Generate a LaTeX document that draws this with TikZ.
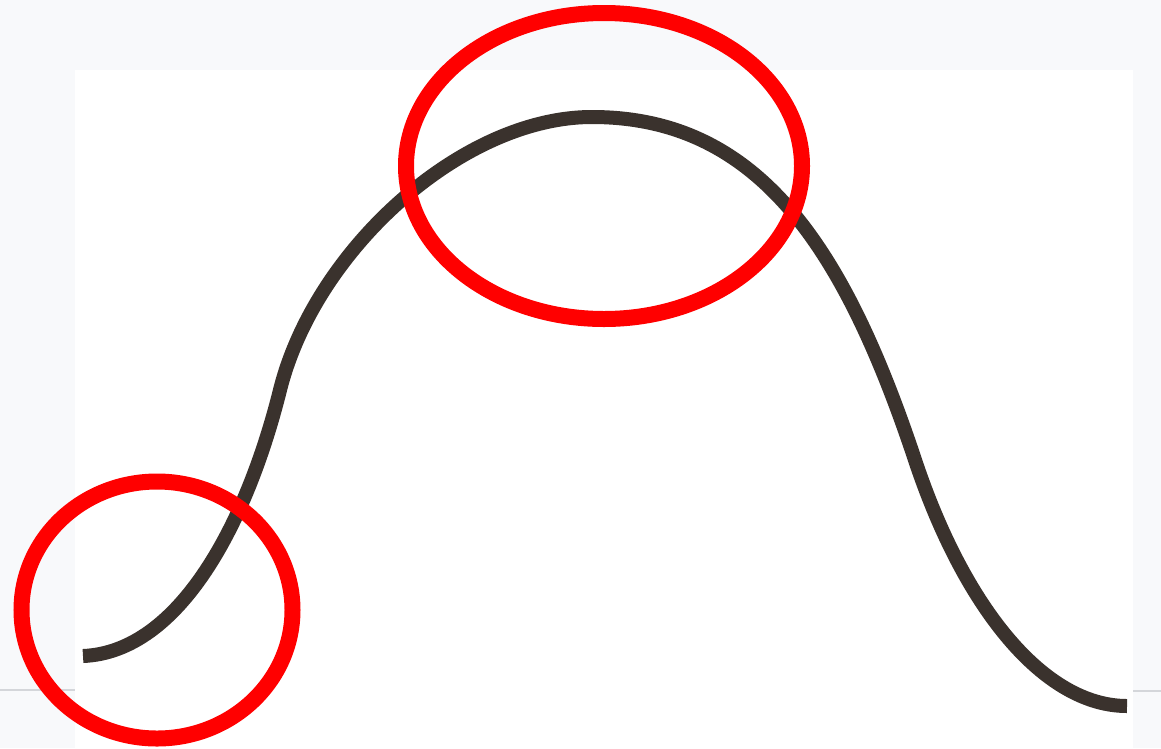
\documentclass[tikz,border=0pt]{standalone}
\definecolor{bgcol}{HTML}{F8F9FB}
\definecolor{curvecol}{HTML}{3A322D}
\definecolor{markred}{HTML}{FF0000}
\definecolor{edgegray}{HTML}{D4D6DA}
\tikzset{
  curveline/.style={draw=curvecol, line width=14pt},
  marker/.style={draw=markred, line width=16pt},
  edgeline/.style={draw=edgegray, line width=1.2pt}
}
\begin{document}
\begin{tikzpicture}[x=1pt,y=-1pt]
\useasboundingbox (0,0) rectangle (1161,748);
\fill[bgcol] (0,0) rectangle (1161,748);
\fill[white] (75,70) rectangle (1133,748);
\draw[edgeline] (0,690) -- (75,690);
\draw[edgeline] (1133,691) -- (1161,691);
\coordinate (s) at (83,656);
\coordinate (i1) at (280,390);
\coordinate (p) at (592,117);
\coordinate (i2) at (915,460);
\coordinate (e) at (1127,706);
\draw[curveline] (s) .. controls (180,652) and (247,522) .. (i1)
  .. controls (315,250) and (462,117) .. (p)
  .. controls (760,117) and (845,250) .. (i2)
  .. controls (965,610) and (1045,706) .. (e);
\draw[marker] (157,610) ellipse [x radius=135.5, y radius=128.5];
\draw[marker] (604,166) ellipse [x radius=198, y radius=153];
\end{tikzpicture}
\end{document}
